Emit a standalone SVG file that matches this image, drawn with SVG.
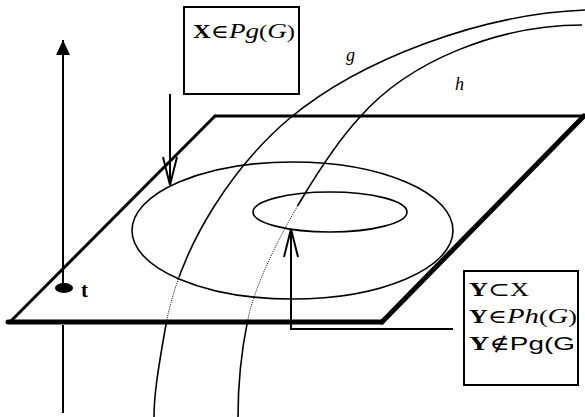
<svg xmlns="http://www.w3.org/2000/svg" width="585" height="417" viewBox="0 0 585 417">
  <style>
    .edge { stroke: #000; fill: none; stroke-linecap: round; }
    .thin { stroke-width: 3; }
    .thick { stroke-width: 5; }
    .ring { stroke: #000; fill: none; stroke-width: 1.6; }
    .curve { stroke: #000; fill: none; stroke-width: 1.6; }
    .dots { stroke: #000; fill: none; stroke-width: 1; stroke-dasharray: 1 1.2; }
    .box { fill: #fff; stroke: #000; stroke-width: 2; }
    .conn { stroke: #000; fill: none; stroke-width: 2; }
    text { fill: #000; }
  </style>
  <defs>
    <marker id="vhead" markerUnits="userSpaceOnUse" markerWidth="32" markerHeight="18" viewBox="-30 -9 32 18" refX="0" refY="0" orient="auto">
      <path d="M -28,-7 L 0,0 L -28,7" fill="none" stroke="#000" stroke-width="2"/>
    </marker>
    <marker id="fhead" markerUnits="userSpaceOnUse" markerWidth="18" markerHeight="16" viewBox="-16 -8 18 16" refX="0" refY="0" orient="auto">
      <path d="M -15,-7 L 0,0 L -15,7 Z" fill="#000"/>
    </marker>
    <clipPath id="gSolid"><rect x="0" y="0" width="585" height="277"/><rect x="0" y="322" width="585" height="95"/></clipPath>
    <clipPath id="gDot"><rect x="0" y="277" width="585" height="45"/></clipPath>
    <clipPath id="hSolid"><rect x="0" y="0" width="585" height="206"/><rect x="0" y="322" width="585" height="95"/></clipPath>
    <clipPath id="hDot"><rect x="0" y="206" width="585" height="116"/></clipPath>
    <path id="gPath" d="M 585,10 C 480,14 360,60 290,118 C 240,160 180,240 165,330 C 158,370 154,395 154,417"/>
    <path id="hPath" d="M 582,25 C 500,25 410,60 360,117 C 332,147 270,240 250,310 C 243,340 238,380 238,417"/>
  </defs>

  <g id="plane">
    <line class="edge thin" x1="215" y1="116" x2="584" y2="116"/>
    <line class="edge thin" x1="10" y1="322" x2="215" y2="116"/>
    <line class="edge thick" x1="584" y1="116" x2="382" y2="322"/>
    <line class="edge thick" x1="8" y1="322" x2="382" y2="322"/>
  </g>

  <g id="set-outer">
    <ellipse class="ring" cx="292.5" cy="230.5" rx="160.5" ry="68.5"/>
  </g>
  <g id="set-inner">
    <ellipse class="ring" cx="330" cy="212" rx="77" ry="20"/>
  </g>

  <g id="curve-g">
    <use href="#gPath" class="curve" clip-path="url(#gSolid)"/>
    <use href="#gPath" class="dots" clip-path="url(#gDot)"/>
    <text x="346" y="61" font-family="Liberation Serif, DejaVu Serif, serif" font-size="18" font-style="italic">g</text>
  </g>
  <g id="curve-h">
    <use href="#hPath" class="curve" clip-path="url(#hSolid)"/>
    <use href="#hPath" class="dots" clip-path="url(#hDot)"/>
    <text x="455" y="90" font-family="Liberation Serif, DejaVu Serif, serif" font-size="18" font-style="italic">h</text>
  </g>

  <g id="time-axis">
    <line class="conn" x1="63" y1="325" x2="63" y2="413"/>
    <ellipse cx="64" cy="288" rx="9" ry="5" fill="#000"/>
    <text x="81" y="297" font-family="Liberation Serif, DejaVu Serif, serif" font-size="21" font-weight="bold">t</text>
  </g>

  <g id="box-x">
    <rect class="box" x="184" y="7" width="115" height="87"/>
    <text x="193" y="38" font-family="Liberation Serif, DejaVu Serif, serif" font-size="19" textLength="102" lengthAdjust="spacingAndGlyphs"><tspan font-weight="bold">X</tspan>∈<tspan font-style="italic" font-size="21">Pg</tspan>(<tspan font-style="italic" font-size="21">G</tspan>)</text>
  </g>

  <g id="box-y">
    <rect class="box" x="464" y="271" width="114" height="114"/>
    <text x="469" y="296" font-family="Liberation Serif, DejaVu Serif, serif" font-size="19" textLength="60" lengthAdjust="spacingAndGlyphs"><tspan font-weight="bold">Y</tspan>⊂X</text>
    <text x="469" y="323" font-family="Liberation Serif, DejaVu Serif, serif" font-size="19" textLength="108" lengthAdjust="spacingAndGlyphs"><tspan font-weight="bold">Y</tspan>∈<tspan font-style="italic" font-size="21">Ph</tspan>(<tspan font-style="italic" font-size="21">G</tspan>)</text>
    <text x="469" y="350" font-family="Liberation Serif, DejaVu Serif, serif" font-size="19" textLength="106" lengthAdjust="spacingAndGlyphs"><tspan font-weight="bold">Y</tspan>∉<tspan font-family="Liberation Sans, DejaVu Sans, sans-serif">Pg(G</tspan></text>
  </g>

  <g id="connectors">
    <line class="conn" x1="63" y1="288" x2="63" y2="40" marker-end="url(#fhead)"/>
    <line class="conn" x1="170" y1="94" x2="170" y2="185" marker-end="url(#vhead)"/>
    <path class="conn" d="M 453,329 H 291 V 229" marker-end="url(#vhead)"/>
  </g>
</svg>
